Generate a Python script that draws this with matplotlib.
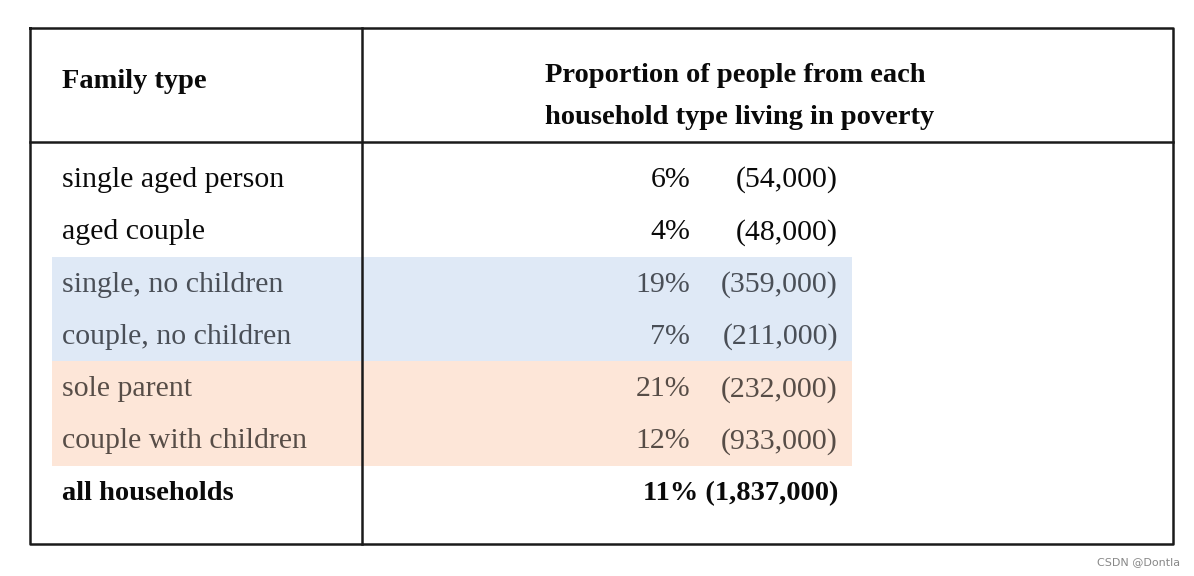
import matplotlib.pyplot as plt
from matplotlib.patches import Rectangle

family_types = ['single aged person', 'aged couple', 'single, no children',
                'couple, no children', 'sole parent', 'couple with children',
                'all households']
percents = ['6%', '4%', '19%', '7%', '21%', '12%']
counts = ['(54,000)', '(48,000)', '(359,000)', '(211,000)', '(232,000)',
          '(933,000)']
total_label = '11% (1,837,000)'
header_left = 'Family type'
header_right = ['Proportion of people from each',
                'household type living in poverty']
# which rows get a coloured band: (first row, last row, colour)
bands = [(2, 3, '#dfe9f6'), (4, 5, '#fde6d8')]
row_colors = ['#0a0a0a', '#0a0a0a', '#4a4f57', '#4a4f57', '#574d47',
              '#574d47', '#0a0a0a']

W, H = 1194, 576
fig = plt.figure(figsize=(W / 100, H / 100), dpi=100)
ax = fig.add_axes([0, 0, 1, 1])
ax.set_xlim(0, W)
ax.set_ylim(H, 0)
ax.axis('off')

serif = ['Liberation Serif', 'DejaVu Serif']
fs = 21.5
hfs = 20.5

row0 = 178
pitch = 52.3
rows_y = [row0 + i * pitch for i in range(len(family_types))]

for first, last, col in bands:
    top = rows_y[first] - 26
    bottom = rows_y[last] + 26
    ax.add_patch(Rectangle((52, top), 800, bottom - top, facecolor=col,
                           edgecolor='none', zorder=0))

# table frame
lw = 1.8
ax.plot([30, 1173, 1173, 30, 30], [28, 28, 544, 544, 28], color='#1a1a1a', lw=lw)
ax.plot([30, 1173], [142, 142], color='#1a1a1a', lw=lw)
ax.plot([362, 362], [28, 544], color='#1a1a1a', lw=lw)

# headers
ax.text(62, 81, header_left, fontsize=hfs, fontweight='bold', family=serif,
        va='center', ha='left', color='#0a0a0a')
ax.text(545, 76, header_right[0], fontsize=hfs, fontweight='bold',
        family=serif, va='center', ha='left', color='#0a0a0a')
ax.text(545, 117, header_right[1], fontsize=hfs, fontweight='bold',
        family=serif, va='center', ha='left', color='#0a0a0a')

dy = 2
for i, name in enumerate(family_types):
    bold = i == len(family_types) - 1
    ax.text(62, rows_y[i] + dy, name, fontsize=fs if not bold else hfs,
            family=serif, va='center', ha='left', color=row_colors[i],
            fontweight='bold' if bold else 'normal')

for i, (p, c) in enumerate(zip(percents, counts)):
    ax.text(690, rows_y[i] + dy, p, fontsize=fs, family=serif, va='center',
            ha='right', color=row_colors[i])
    ax.text(838, rows_y[i] + dy, c, fontsize=fs, family=serif, va='center',
            ha='right', color=row_colors[i])

ax.text(838, rows_y[-1] + dy, total_label, fontsize=hfs, family=serif,
        fontweight='bold', va='center', ha='right', color='#0a0a0a')

ax.text(1180, 562, 'CSDN @Dontla', fontsize=8, color='#888888',
        va='center', ha='right')

fig.savefig('out.png', dpi=100)
